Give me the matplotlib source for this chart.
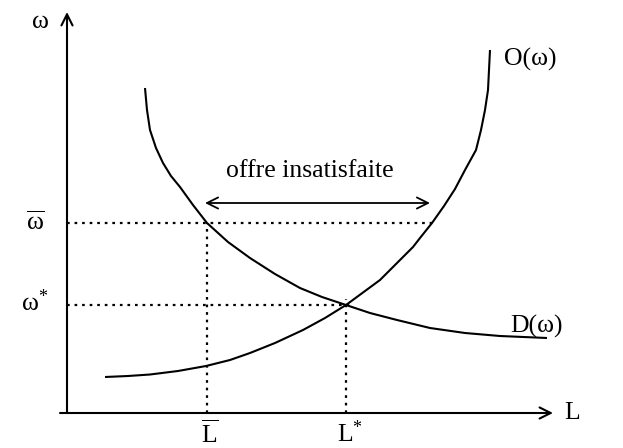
"""Labour market diagram: supply O(w) and demand D(w), unsatisfied supply."""

import matplotlib

matplotlib.use("Agg")
import matplotlib.pyplot as plt

plt.rcParams["font.family"] = ["Liberation Serif", "DejaVu Serif"]
plt.rcParams["mathtext.fontset"] = "custom"
plt.rcParams["mathtext.rm"] = "Liberation Serif"
plt.rcParams["mathtext.it"] = "Liberation Serif"

# supply curve O(w)
supply_L = [38, 61, 83, 111, 139, 163, 183, 208, 236, 258, 279, 313, 346, 353, 365,
            377, 388, 398, 409, 414, 418, 421, 422, 423]
supply_w = [36, 37, 38.5, 42, 47, 53, 60, 70, 83, 95, 108, 133, 166, 175, 190,
            207, 224, 243, 263, 283, 303, 323, 343, 363]

# demand curve D(w)
demand_L = [78, 80, 83, 89, 96, 104, 113, 126, 140, 161, 183, 208, 233, 255,
            279, 303, 330, 363, 398, 433, 480]
demand_w = [325, 303, 283, 265, 250, 237, 226, 208, 190, 171, 155, 139, 125, 116,
            108, 100, 93, 85, 80, 77, 75]

# key levels
L_bar, w_bar = 140, 190
L_star, w_star = 279, 108
L_offre = 365  # supply at w_bar

fig = plt.figure(figsize=(6.23, 4.48), dpi=100)
ax = fig.add_axes([0, 0, 1, 1])
ax.set_xlim(-67, 556)
ax.set_ylim(-35, 413)
ax.axis("off")

fs = 18.5
ax.plot(supply_L, supply_w, color="black", lw=1.5, solid_capstyle="butt")
ax.plot(demand_L, demand_w, color="black", lw=1.5, solid_capstyle="butt")

dots = dict(color="black", lw=1.6, linestyle=(0, (1.2, 2.2)))
ax.plot([0, L_offre], [w_bar, w_bar], **dots)
ax.plot([L_bar, L_bar], [0, w_bar], **dots)
ax.plot([0, L_star + 8], [w_star, w_star], **dots)
ax.plot([L_star, L_star], [0, w_star + 6], **dots)

# axes with open arrowheads
arrow = dict(arrowstyle="->,head_length=0.8,head_width=0.4", color="black", lw=1.5,
             shrinkA=0, shrinkB=0)
ax.annotate("", xy=(0, 401), xytext=(0, 0), arrowprops=arrow)
ax.annotate("", xy=(486, 0), xytext=(-7, 0), arrowprops=arrow)

# unsatisfied supply double arrow
ax.annotate("", xy=(L_offre - 2, 210), xytext=(L_bar - 2, 210),
            arrowprops=dict(arrowstyle="<->,head_length=0.8,head_width=0.4",
                            color="black", lw=1.3, shrinkA=0, shrinkB=0))
ax.text(243, 242, "offre insatisfaite", fontsize=fs, ha="center", va="center")

ax.text(-27, 391, "ω", fontsize=fs, ha="center", va="center")
ax.text(-32, 190, r"$\overline{\mathrm{ω}}$", fontsize=fs, ha="center", va="center")
ax.text(-32, 110, r"ω$^{*}$", fontsize=fs, ha="center", va="center")
ax.text(143, -21, r"$\overline{\mathrm{L}}$", fontsize=fs, ha="center", va="center")
ax.text(L_star + 4, -21, r"L$^{*}$", fontsize=fs, ha="center", va="center")
ax.text(505, 0, "L", fontsize=fs, ha="center", va="center")
ax.text(463, 354, "O(ω)", fontsize=fs, ha="center", va="center")
ax.text(470, 87, "D(ω)", fontsize=fs, ha="center", va="center")

fig.savefig("out.png", dpi=100)
plt.close(fig)
